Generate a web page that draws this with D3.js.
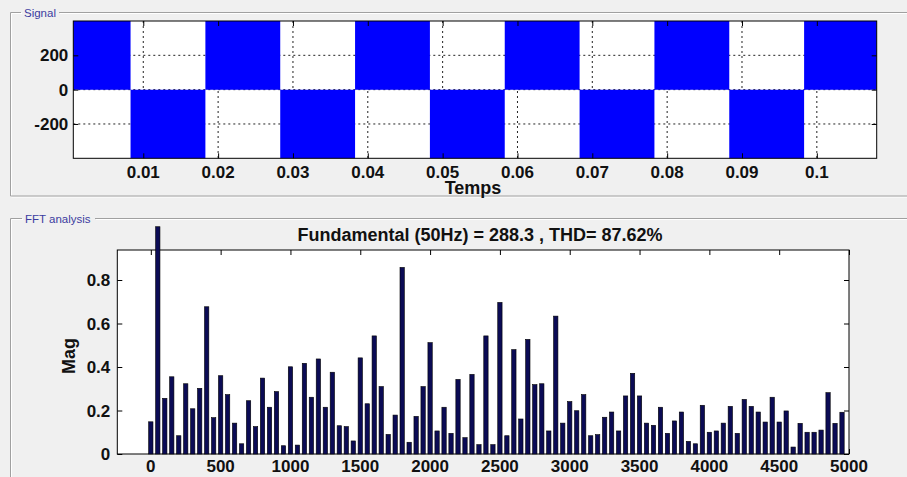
<!DOCTYPE html>
<html>
<head>
<meta charset="utf-8">
<script src="https://cdn.jsdelivr.net/npm/d3@7"></script>
<style>
  html, body { margin: 0; padding: 0; background: #f0f0f0; }
  svg { display: block; font-family: "Liberation Sans", Arial, sans-serif; }
</style>
</head>
<body>
<svg id="chart" width="907" height="477"></svg>
<script>
// ---------- Signal panel data ----------
const sigTimes  = [0.00065, 0.0083, 0.0183, 0.0283, 0.0383, 0.0483, 0.0583, 0.0683, 0.0783, 0.0883, 0.0983, 0.108];
const sigLevels = [400, -400, 400, -400, 400, -400, 400, -400, 400, -400, 400, 400];
const sigXTicks = [0.01, 0.02, 0.03, 0.04, 0.05, 0.06, 0.07, 0.08, 0.09, 0.1];
const sigXTickLabels = ["0.01", "0.02", "0.03", "0.04", "0.05", "0.06", "0.07", "0.08", "0.09", "0.1"];
const sigYTicks = [-200, 0, 200];
const sigYTickLabels = ["-200", "0", "200"];
const sigXLabel = "Temps";
const sigPanelTitle = "Signal";

// ---------- FFT panel data ----------
const fftFreqs = [0, 50, 100, 150, 200, 250, 300, 350, 400, 450,
  500, 550, 600, 650, 700, 750, 800, 850, 900, 950,
  1000, 1050, 1100, 1150, 1200, 1250, 1300, 1350, 1400, 1450,
  1500, 1550, 1600, 1650, 1700, 1750, 1800, 1850, 1900, 1950,
  2000, 2050, 2100, 2150, 2200, 2250, 2300, 2350, 2400, 2450,
  2500, 2550, 2600, 2650, 2700, 2750, 2800, 2850, 2900, 2950,
  3000, 3050, 3100, 3150, 3200, 3250, 3300, 3350, 3400, 3450,
  3500, 3550, 3600, 3650, 3700, 3750, 3800, 3850, 3900, 3950,
  4000, 4050, 4100, 4150, 4200, 4250, 4300, 4350, 4400, 4450,
  4500, 4550, 4600, 4650, 4700, 4750, 4800, 4850, 4900, 4950];
const fftMag = [0.148, 1.045, 0.256, 0.355, 0.084, 0.323, 0.208, 0.302, 0.677, 0.167,
  0.360, 0.273, 0.142, 0.047, 0.245, 0.126, 0.349, 0.215, 0.287, 0.038,
  0.401, 0.041, 0.417, 0.261, 0.437, 0.215, 0.376, 0.130, 0.126, 0.060,
  0.442, 0.231, 0.543, 0.310, 0.090, 0.179, 0.858, 0.054, 0.173, 0.310,
  0.512, 0.106, 0.215, 0.095, 0.343, 0.075, 0.366, 0.043, 0.543, 0.043,
  0.697, 0.084, 0.480, 0.161, 0.527, 0.319, 0.323, 0.106, 0.634, 0.142,
  0.241, 0.199, 0.273, 0.084, 0.089, 0.169, 0.193, 0.106, 0.267, 0.371,
  0.267, 0.142, 0.132, 0.215, 0.095, 0.152, 0.193, 0.058, 0.047, 0.224,
  0.100, 0.106, 0.142, 0.219, 0.095, 0.251, 0.219, 0.193, 0.147, 0.261,
  0.147, 0.198, 0.032, 0.141, 0.100, 0.100, 0.110, 0.282, 0.141, 0.192];
const fftXTicks = [0, 500, 1000, 1500, 2000, 2500, 3000, 3500, 4000, 4500, 5000];
const fftXTickLabels = ["0", "500", "1000", "1500", "2000", "2500", "3000", "3500", "4000", "4500", "5000"];
const fftYTicks = [0, 0.2, 0.4, 0.6, 0.8];
const fftYTickLabels = ["0", "0.2", "0.4", "0.6", "0.8"];
const fftTitle = "Fundamental (50Hz) = 288.3 , THD= 87.62%";
const fftYLabel = "Mag";
const fftPanelTitle = "FFT analysis";

const svg = d3.select("#chart");
const TICKLEN = 5;
const TFONT = 17;   // tick labels
const LFONT = 18;   // titles / axis labels

// ---------- group box helper ----------
function groupBox(x, y, w, h, label, labelX, labelW) {
  const g = svg.append("g");
  const drawFrame = (dx, color) => {
    g.append("path")
      .attr("d", `M${labelX - 3 + dx},${y + dx} H${x + dx} V${y + h + dx} H${x + w + dx} V${y + dx} H${labelX + labelW + 2 + dx}`)
      .attr("fill", "none").attr("stroke", color).attr("stroke-width", 1);
  };
  drawFrame(1, "#ffffff");
  drawFrame(0, "#a0a0a0");
  g.append("text").attr("x", labelX).attr("y", y + 4)
    .attr("font-size", 11.5).attr("fill", "#3c3ca0").text(label);
}
groupBox(10.5, 12.5, 920, 183.5, sigPanelTitle, 24, 33);
groupBox(10.5, 218.5, 920, 300, fftPanelTitle, 25, 68);

// ---------- Signal panel ----------
const sx = d3.scaleLinear().domain([sigTimes[0], sigTimes[sigTimes.length - 1]]).range([73.3, 876.7]);
const sy = d3.scaleLinear().domain([-400, 400]).range([158.3, 21]);
const sL = sx.range()[0], sR = sx.range()[1], sT = sy.range()[1], sB = sy.range()[0];

const gs = svg.append("g");
gs.append("rect").attr("x", sL).attr("y", sT).attr("width", sR - sL).attr("height", sB - sT).attr("fill", "#fff");

// grid
gs.selectAll(".vgrid").data(sigXTicks).join("line")
  .attr("x1", d => sx(d)).attr("x2", d => sx(d)).attr("y1", sT).attr("y2", sB)
  .attr("stroke", "#222").attr("stroke-width", 1).attr("stroke-dasharray", "2,3");
gs.selectAll(".hgrid").data(sigYTicks).join("line")
  .attr("x1", sL).attr("x2", sR).attr("y1", d => sy(d)).attr("y2", d => sy(d))
  .attr("stroke", "#222").attr("stroke-width", 1).attr("stroke-dasharray", "2,3");

// signal as filled step area
const sigData = sigTimes.map((t, i) => ({ t, v: sigLevels[i] }));
const area = d3.area().curve(d3.curveStepAfter)
  .x(d => sx(d.t)).y0(sy(0)).y1(d => sy(d.v));
gs.append("path").datum(sigData).attr("d", area).attr("fill", "#0000ff").attr("stroke", "none");

// axes (inward ticks, box)
gs.append("g").attr("transform", `translate(0,${sB})`)
  .call(d3.axisBottom(sx).tickValues(sigXTicks).tickSize(-TICKLEN).tickFormat(""))
  .call(g => g.select(".domain").remove());
gs.append("g").attr("transform", `translate(0,${sT})`)
  .call(d3.axisTop(sx).tickValues(sigXTicks).tickSize(-TICKLEN).tickFormat(""))
  .call(g => g.select(".domain").remove());
gs.append("g").attr("transform", `translate(${sL},0)`)
  .call(d3.axisLeft(sy).tickValues(sigYTicks).tickSize(-TICKLEN).tickFormat(""))
  .call(g => g.select(".domain").remove());
gs.append("g").attr("transform", `translate(${sR},0)`)
  .call(d3.axisRight(sy).tickValues(sigYTicks).tickSize(-TICKLEN).tickFormat(""))
  .call(g => g.select(".domain").remove());
gs.selectAll(".tick line").attr("stroke", "#000");
gs.append("rect").attr("x", sL).attr("y", sT).attr("width", sR - sL).attr("height", sB - sT)
  .attr("fill", "none").attr("stroke", "#000").attr("stroke-width", 1);

gs.selectAll(".xlab").data(sigXTicks).join("text")
  .attr("x", d => sx(d)).attr("y", sB + 20).attr("text-anchor", "middle")
  .attr("font-size", TFONT).attr("font-weight", "bold").attr("fill", "#111")
  .text((d, i) => sigXTickLabels[i]);
gs.selectAll(".ylab").data(sigYTicks).join("text")
  .attr("x", sL - 5).attr("y", d => sy(d) + 6).attr("text-anchor", "end")
  .attr("font-size", TFONT).attr("font-weight", "bold").attr("fill", "#111")
  .text((d, i) => sigYTickLabels[i]);
gs.append("text").attr("x", (sL + sR) / 2 - 2).attr("y", 194).attr("text-anchor", "middle")
  .attr("font-size", LFONT).attr("font-weight", "bold").attr("fill", "#111").text(sigXLabel);

// ---------- FFT panel ----------
const fx = d3.scaleLinear().domain([-240, 5000]).range([117.3, 849]);
const fy = d3.scaleLinear().domain([0, 0.938]).range([454, 250]);
const fL = fx.range()[0], fR = fx.range()[1], fT = fy.range()[1], fB = fy.range()[0];
const barHalf = 15.5; // Hz

const gf = svg.append("g");
gf.append("rect").attr("x", fL).attr("y", fT).attr("width", fR - fL).attr("height", fB - fT).attr("fill", "#fff");

gf.append("g").attr("transform", `translate(0,${fB})`)
  .call(d3.axisBottom(fx).tickValues(fftXTicks).tickSize(-TICKLEN).tickFormat(""))
  .call(g => g.select(".domain").remove());
gf.append("g").attr("transform", `translate(0,${fT})`)
  .call(d3.axisTop(fx).tickValues(fftXTicks).tickSize(-TICKLEN).tickFormat(""))
  .call(g => g.select(".domain").remove());
gf.append("g").attr("transform", `translate(${fL},0)`)
  .call(d3.axisLeft(fy).tickValues(fftYTicks).tickSize(-TICKLEN).tickFormat(""))
  .call(g => g.select(".domain").remove());
gf.append("g").attr("transform", `translate(${fR},0)`)
  .call(d3.axisRight(fy).tickValues(fftYTicks).tickSize(-TICKLEN).tickFormat(""))
  .call(g => g.select(".domain").remove());
gf.selectAll(".tick line").attr("stroke", "#000");
gf.append("rect").attr("x", fL).attr("y", fT).attr("width", fR - fL).attr("height", fB - fT)
  .attr("fill", "none").attr("stroke", "#000").attr("stroke-width", 1);

gf.selectAll(".bar").data(fftFreqs).join("rect")
  .attr("x", d => fx(d - barHalf))
  .attr("width", d => fx(d + barHalf) - fx(d - barHalf))
  .attr("y", (d, i) => fy(fftMag[i]))
  .attr("height", (d, i) => fy(0) - fy(fftMag[i]))
  .attr("fill", "#0b0b55").attr("stroke", "#000").attr("stroke-width", 0.6);

gf.selectAll(".xlab").data(fftXTicks).join("text")
  .attr("x", d => fx(d)).attr("y", fB + 18).attr("text-anchor", "middle")
  .attr("font-size", TFONT).attr("font-weight", "bold").attr("fill", "#111")
  .text((d, i) => fftXTickLabels[i]);
gf.selectAll(".ylab").data(fftYTicks).join("text")
  .attr("x", fL - 7).attr("y", d => fy(d) + 6).attr("text-anchor", "end")
  .attr("font-size", TFONT).attr("font-weight", "bold").attr("fill", "#111")
  .text((d, i) => fftYTickLabels[i]);
gf.append("text").attr("x", 480).attr("y", 241).attr("text-anchor", "middle")
  .attr("font-size", LFONT).attr("font-weight", "bold").attr("fill", "#111").text(fftTitle);
gf.append("text").attr("transform", "translate(75,356) rotate(-90)").attr("text-anchor", "middle")
  .attr("font-size", LFONT).attr("font-weight", "bold").attr("fill", "#111").text(fftYLabel);
</script>
</body>
</html>
